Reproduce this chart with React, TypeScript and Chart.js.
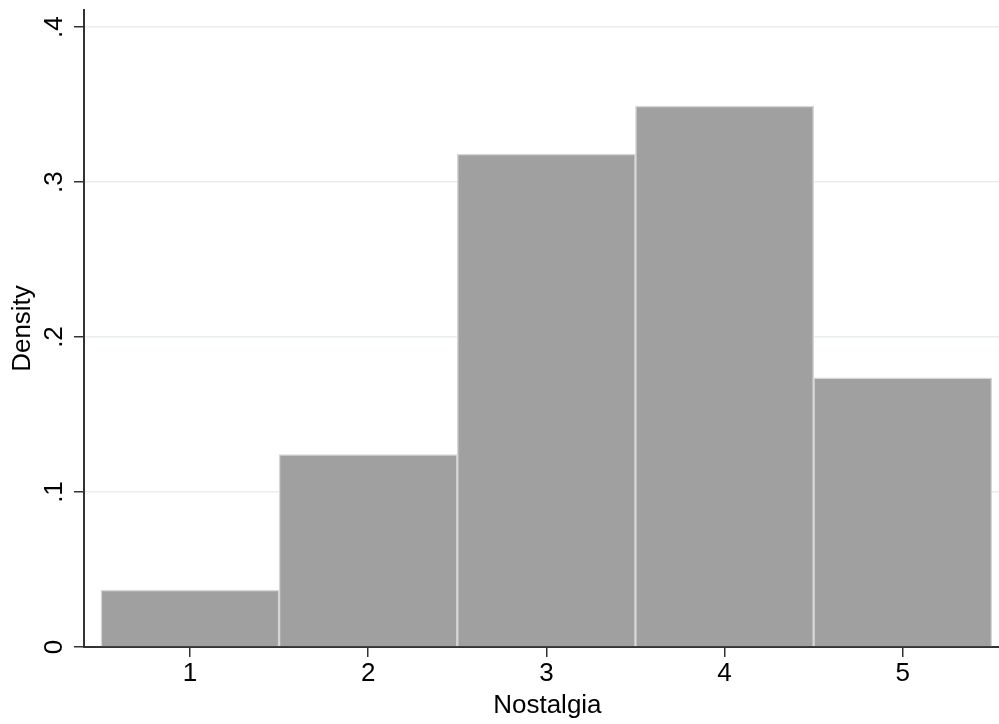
import React, { useEffect, useRef } from "react";
import { Chart, registerables } from "chart.js";

Chart.register(...registerables);

const categories = [1, 2, 3, 4, 5];
const densities = [0.0368, 0.1242, 0.318, 0.349, 0.1737];
const xTickValues = [1, 2, 3, 4, 5];
const yTickValues = [0, 0.1, 0.2, 0.3, 0.4];
const yTickLabels = ["0", ".1", ".2", ".3", ".4"];
const xTitle = "Nostalgia";
const yTitle = "Density";

const FONT = "'Liberation Sans', Arial, Helvetica, sans-serif";

export default function App() {
  const ref = useRef<HTMLCanvasElement | null>(null);

  useEffect(() => {
    if (!ref.current) return;
    const labelPlugin = {
      id: "axisLabels",
      afterDraw(chart: any) {
        const ctx = chart.ctx;
        const y = chart.scales.y;
        const x = chart.scales.x;
        ctx.save();
        ctx.fillStyle = "#000";
        ctx.font = `26px ${FONT}`;
        ctx.textAlign = "center";
        ctx.textBaseline = "alphabetic";
        yTickValues.forEach((v, i) => {
          const py = y.getPixelForValue(v);
          ctx.save();
          ctx.translate(62, py);
          ctx.rotate(-Math.PI / 2);
          ctx.fillText(yTickLabels[i], 0, 0);
          ctx.restore();
        });
        // x axis title, centred slightly right of the plot centre as in the original
        const cx = (x.getPixelForValue(1) + x.getPixelForValue(5)) / 2 + 1;
        ctx.fillText(xTitle, cx, 713);
        ctx.restore();
      },
    };

    const chart = new Chart(ref.current, {
      type: "bar",
      data: {
        datasets: [
          {
            data: categories.map((c, i) => ({ x: c, y: densities[i] })),
            backgroundColor: "#a0a0a0",
            borderColor: "#d6d6d6",
            borderWidth: 1.5,
            barPercentage: 1,
            categoryPercentage: 1,
          },
        ],
      },
      options: {
        animation: false,
        responsive: false,
        layout: { padding: { top: 10, left: 0, right: 0, bottom: 0 } },
        plugins: { legend: { display: false }, tooltip: { enabled: false } },
        scales: {
          x: {
            type: "linear",
            min: 0.4052,
            max: 5.54,
            offset: false,
            grid: {
              offset: false,
              drawOnChartArea: false,
              drawTicks: true,
              tickLength: 10,
              tickColor: "#333",
              lineWidth: 1.5,
            },
            border: { display: true, color: "#333", width: 2 },
            afterBuildTicks: (s: any) => {
              s.ticks = xTickValues.map((v) => ({ value: v }));
            },
            afterFit: (s: any) => {
              s.height = 77;
            },
            ticks: {
              color: "#000",
              font: { family: FONT, size: 26 },
              padding: 1,
              maxRotation: 0,
              callback: (v: any) => String(v),
            },
            title: { display: false },
          },
          y: {
            min: 0,
            max: 0.411,
            grid: {
              color: "#e6eef0",
              lineWidth: 1.5,
              drawTicks: true,
              tickLength: 10,
              tickColor: "#333",
            },
            border: { display: true, color: "#333", width: 2 },
            afterBuildTicks: (s: any) => {
              s.ticks = yTickValues.map((v) => ({ value: v }));
            },
            afterFit: (s: any) => {
              s.width = 84;
            },
            ticks: { display: false },
            title: {
              display: true,
              text: yTitle,
              color: "#000",
              font: { family: FONT, size: 26 },
              padding: { top: 7, bottom: 0 },
            },
          },
        },
      },
      plugins: [labelPlugin],
    });
    return () => chart.destroy();
  }, []);

  return (
    <canvas
      ref={ref}
      width={999}
      height={724}
      style={{ position: "absolute", left: 0, top: 0, display: "block" }}
    />
  );
}
